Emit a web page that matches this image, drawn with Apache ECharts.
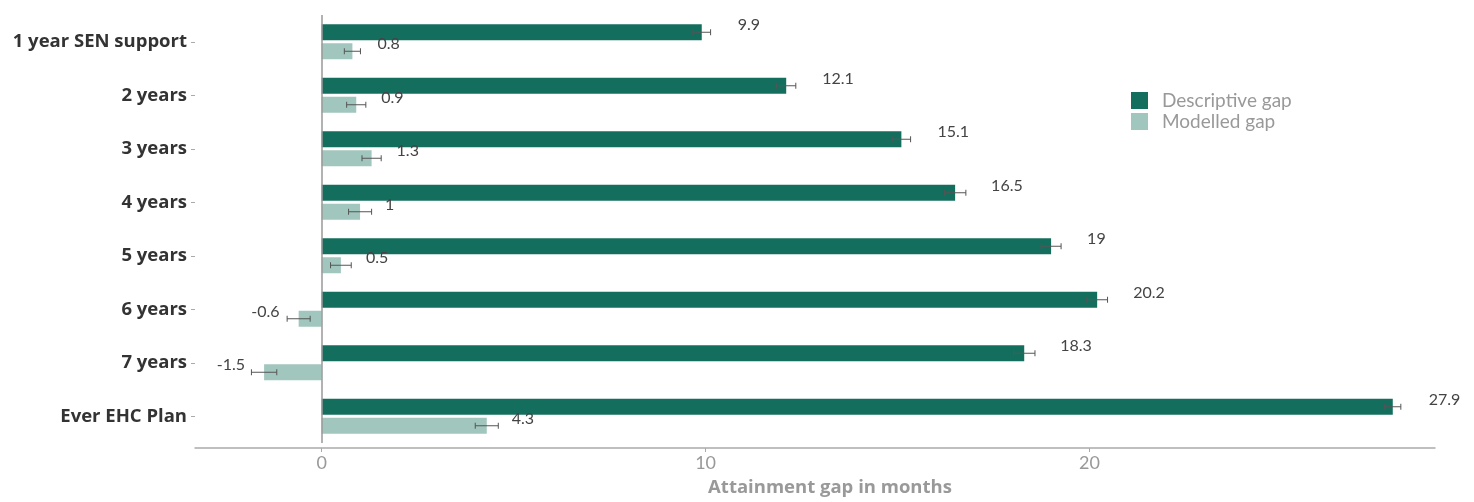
<!DOCTYPE html>
<html>
<head>
<meta charset="utf-8">
<script src="https://cdn.jsdelivr.net/npm/echarts@6/dist/echarts.min.js"></script>
<style>
  html, body { margin: 0; padding: 0; background: #ffffff; }
  #chart { width: 1474px; height: 502px; }
</style>
</head>
<body>
<div id="chart"></div>
<script>
// Years of SEN support (categories) and the attainment gap in months
const categories = ['1 year SEN support', '2 years', '3 years', '4 years', '5 years', '6 years', '7 years', 'Ever EHC Plan'];
const descriptiveGap = [9.9, 12.1, 15.1, 16.5, 19, 20.2, 18.3, 27.9];
const descriptiveErr = [0.23, 0.25, 0.24, 0.28, 0.26, 0.27, 0.28, 0.21];
const modelledGap = [0.8, 0.9, 1.3, 1, 0.5, -0.6, -1.5, 4.3];
const modelledErr = [0.21, 0.25, 0.25, 0.3, 0.27, 0.3, 0.33, 0.3];
const xTicks = [0, 10, 20];

const DARK = '#146e5e';
const LIGHT = '#a0c6bd';
const FONT = 'Lato';
const BOLD_FONT = 'Open Sans';

const chart = echarts.init(document.getElementById('chart'), null, { renderer: 'canvas' });

const BAR_W = 16;
const BAR_GAP = 3;

function barData(values, dist) {
  return values.map(v => ({
    value: v,
    label: {
      position: v < 0 ? 'left' : 'right',
      distance: v < 0 ? 19 : dist
    }
  }));
}

// error bars drawn as whiskers at the bar's slot within the category band
function errorSeries(values, errs, slot) {
  return {
    type: 'custom',
    name: slot === 0 ? 'descErr' : 'modErr',
    silent: true,
    z: 5,
    data: values.map((v, i) => [v - errs[i], v + errs[i], i]),
    renderItem: function (params, api) {
      const lo = api.coord([api.value(0), api.value(2)]);
      const hi = api.coord([api.value(1), api.value(2)]);
      const total = BAR_W * 2 + BAR_GAP;
      const y = lo[1] - total / 2 + slot * (BAR_W + BAR_GAP) + BAR_W / 2;
      const cap = 3;
      const style = { stroke: '#555555', lineWidth: 1 };
      return {
        type: 'group',
        children: [
          { type: 'line', shape: { x1: lo[0], y1: y, x2: hi[0], y2: y }, style: style },
          { type: 'line', shape: { x1: lo[0], y1: y - cap, x2: lo[0], y2: y + cap }, style: style },
          { type: 'line', shape: { x1: hi[0], y1: y - cap, x2: hi[0], y2: y + cap }, style: style }
        ]
      };
    }
  };
}

const valueLabel = {
  show: true,
  color: '#444444',
  fontFamily: FONT,
  fontSize: 16,
  offset: [0, -7]
};

chart.setOption({
  animation: false,
  textStyle: { fontFamily: FONT },
  grid: { left: 195, right: 39, top: 15, bottom: 48, containLabel: false },
  legend: {
    data: ['Descriptive gap', 'Modelled gap'],
    orient: 'vertical',
    left: 1131,
    top: 91,
    padding: 0,
    itemWidth: 17,
    itemHeight: 17,
    itemGap: 2,
    icon: 'rect',
    textStyle: { color: '#999999', fontSize: 19, fontFamily: FONT, padding: [0, 0, 0, 9] }
  },
  xAxis: {
    type: 'value',
    min: -3.3,
    max: 29,
    offset: 5,
    name: 'Attainment gap in months',
    nameLocation: 'middle',
    nameGap: 30,
    nameTextStyle: { color: '#999999', fontWeight: 'bold', fontSize: 18.5, fontFamily: BOLD_FONT, padding: [0, 0, 0, 30] },
    axisLine: { show: true, lineStyle: { color: '#aaaaaa', width: 1.5 } },
    axisTick: { show: true, length: 4, customValues: xTicks, lineStyle: { color: '#aaaaaa' } },
    axisLabel: { customValues: xTicks, color: '#999999', fontSize: 18, fontFamily: FONT, margin: 6 },
    splitLine: { show: false }
  },
  yAxis: {
    type: 'category',
    data: categories,
    inverse: true,
    axisLine: { show: false, onZero: false },
    axisTick: { show: true, length: 4, alignWithLabel: true, lineStyle: { color: '#aaaaaa' } },
    axisLabel: { color: '#333333', fontWeight: 'bold', fontSize: 18.5, fontFamily: BOLD_FONT, margin: 8 }
  },
  series: [
    {
      name: 'Descriptive gap',
      type: 'bar',
      barWidth: BAR_W,
      barGap: (BAR_GAP / BAR_W * 100) + '%',
      itemStyle: { color: DARK },
      label: valueLabel,
      data: barData(descriptiveGap, 36),
      markLine: {
        silent: true,
        symbol: 'none',
        label: { show: false },
        lineStyle: { color: '#999999', type: 'solid', width: 1.5 },
        data: [{ xAxis: 0 }]
      }
    },
    {
      name: 'Modelled gap',
      type: 'bar',
      barWidth: BAR_W,
      barGap: (BAR_GAP / BAR_W * 100) + '%',
      itemStyle: { color: LIGHT },
      label: valueLabel,
      data: barData(modelledGap, 25)
    },
    errorSeries(descriptiveGap, descriptiveErr, 0),
    errorSeries(modelledGap, modelledErr, 1)
  ]
});
</script>
</body>
</html>
